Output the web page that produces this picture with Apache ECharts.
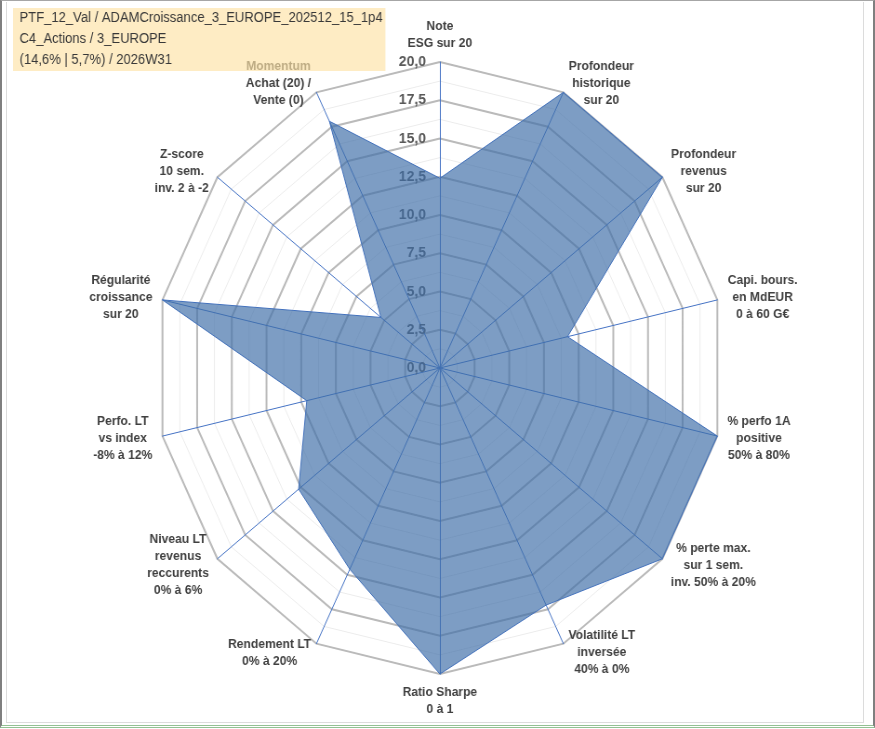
<!DOCTYPE html>
<html>
<head>
<meta charset="utf-8">
<title>Radar ADAMCroissance</title>
<script src="https://cdn.jsdelivr.net/npm/echarts@6/dist/echarts.min.js"></script>
<style>
  html, body { margin: 0; padding: 0; background: #fff; overflow: hidden; }
  #frame { position: absolute; left: 0; top: 0; width: 871px; height: 724px;
           border-left: 2px solid #7f7f7f; border-right: 2px solid #7f7f7f;
           border-top: 1px solid #a6a6a6; border-bottom: 3px double #93c193; }
  #inner { position: absolute; left: 6px; top: 2px; width: 856px; height: 720px;
           border: 1px solid #dcdcdc; border-top: none; }
  /* the source picture is squeezed horizontally, so the chart is too */
  #chart { position: absolute; left: 0; top: 0; width: 941px; height: 729px;
           transform: scaleX(0.93); transform-origin: 0 0; }
</style>
</head>
<body>
<div id="frame"></div>
<div id="inner"></div>
<div id="chart"></div>
<script>
// clockwise from the top
const indicatorNames = [
  'Note\nESG sur 20',
  'Profondeur\nhistorique\nsur 20',
  'Profondeur\nrevenus\nsur 20',
  'Capi. bours.\nen MdEUR\n0 à 60 G€',
  '% perfo 1A\npositive\n50% à 80%',
  '% perte max.\nsur 1 sem.\ninv. 50% à 20%',
  'Volatilité LT\ninversée\n40% à 0%',
  'Ratio Sharpe\n0 à 1',
  'Rendement LT\n0% à 20%',
  'Niveau LT\nrevenus\nreccurents\n0% à 6%',
  'Perfo. LT\nvs index\n-8% à 12%',
  'Régularité\ncroissance\nsur 20',
  'Z-score\n10 sem.\ninv. 2 à -2',
  'Momentum\nAchat (20) /\nVente (0)'
];
const scores = [12.4, 20, 20, 9.2, 20, 20, 17.2, 20, 14.6, 12.7, 9.6, 20, 5.3, 17.9];
const titleLines = [
  'PTF_12_Val / ADAMCroissance_3_EUROPE_202512_15_1p4',
  'C4_Actions / 3_EUROPE',
  '(14,6% | 5,7%) / 2026W31'
];
const axisMin = 0;
const axisMax = 20;

const FONT = '"Liberation Sans", Arial, sans-serif';

// echarts lays radar indicators anticlockwise, so keep the first and reverse the rest
var order = [0];
for (var i = indicatorNames.length - 1; i > 0; i--) order.push(i);

// one rich style per name so the lines are centred in a box as wide as the longest line
var ctx = document.createElement('canvas').getContext('2d');
ctx.font = 'bold 13px ' + FONT;
var rich = {};
indicatorNames.forEach(function (name, i) {
  var w = 0;
  name.split('\n').forEach(function (s) { w = Math.max(w, ctx.measureText(s).width); });
  rich['n' + i] = {
    width: Math.ceil(w) + 2, align: 'center', lineHeight: 17,
    fontSize: 13, fontWeight: 'bold', color: '#404040', fontFamily: FONT
  };
});

var minorIndicators = order.map(function (i) {
  return { name: indicatorNames[i], min: axisMin, max: axisMax };
});
var majorIndicators = order.map(function (i, k) {
  var ind = { name: indicatorNames[i], min: axisMin, max: axisMax };
  if (k === 0) {
    ind.axisLabel = {
      show: true, margin: 15, color: '#595959', fontSize: 15, fontWeight: 'bold', fontFamily: FONT,
      formatter: function (v) { return v.toFixed(1).replace('.', ','); }
    };
  }
  return ind;
});

var chart = echarts.init(document.getElementById('chart'));

var option = {
  animation: false,
  title: {
    text: titleLines.join('\n'),
    left: 14,
    top: 8,
    padding: [0, 3, 0, 7],
    backgroundColor: 'rgba(253,226,166,0.66)',
    z: 10,
    textStyle: { fontSize: 14, fontWeight: 'normal', color: '#383838', lineHeight: 21, fontFamily: FONT }
  },
  radar: [
    {
      // light intermediate rings
      center: [473, 368],
      radius: 306,
      startAngle: 90,
      shape: 'polygon',
      splitNumber: 16,
      indicator: minorIndicators,
      axisName: { show: false },
      axisLine: { show: false },
      axisTick: { show: false },
      axisLabel: { show: false },
      splitArea: { show: false },
      splitLine: { lineStyle: { color: '#ececec', width: 1 } },
      silent: true
    },
    {
      center: [473, 368],
      radius: 306,
      startAngle: 90,
      shape: 'polygon',
      splitNumber: 8,
      nameGap: 10,
      indicator: majorIndicators,
      axisName: {
        formatter: function (name) {
          var idx = indicatorNames.indexOf(name);
          return name.split('\n').map(function (s) { return '{n' + idx + '|' + s + '}'; }).join('\n');
        },
        rich: rich
      },
      axisLine: { lineStyle: { color: '#4472c4', width: 1 } },
      axisTick: { show: false },
      axisLabel: { show: false },
      splitArea: { show: false },
      splitLine: { lineStyle: { color: '#bababa', width: 2 } }
    }
  ],
  series: [
    {
      type: 'radar',
      radarIndex: 1,
      symbol: 'none',
      lineStyle: { color: '#4472c4', width: 1 },
      areaStyle: { color: '#3f6fa8', opacity: 0.68 },
      data: [{ name: 'Score', value: order.map(function (i) { return scores[i]; }) }]
    }
  ]
};

chart.setOption(option);
</script>
</body>
</html>
